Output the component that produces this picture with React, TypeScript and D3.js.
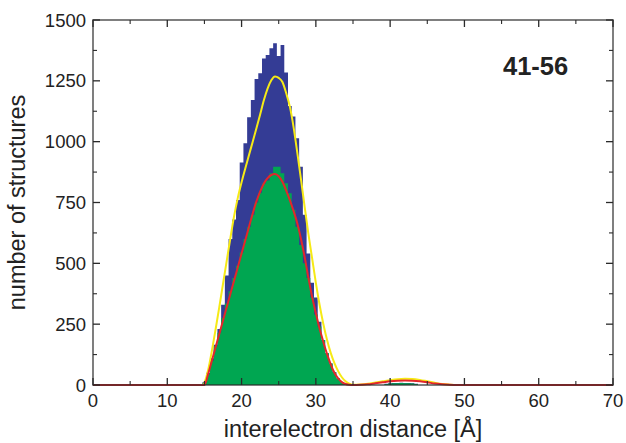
import React from "react";
import * as d3 from "d3";

// ---- data ----
const binCenters = [
  15, 15.5, 16, 16.5, 17, 17.5, 18, 18.5, 19, 19.5, 20, 20.5, 21, 21.5, 22, 22.5, 23, 23.5, 24, 24.5,
  25, 25.5, 26, 26.5, 27, 27.5, 28, 28.5, 29, 29.5, 30, 30.5, 31, 31.5, 32, 32.5, 33, 33.5, 34,
  39.5, 40, 40.5, 41, 41.5, 42, 42.5, 43, 43.5,
];
const totalCounts = [
  12, 50, 110, 165, 230, 330, 450, 600, 680, 760, 914, 993, 1100, 1171, 1258, 1281, 1342, 1356, 1384, 1404,
  1352, 1397, 1284, 1147, 1103, 1014, 897, 700, 540, 420, 360, 260, 185, 130, 88, 52, 27, 11, 4,
  5, 7, 8, 8, 9, 8, 8, 7, 5,
];
const subsetCounts = [
  8, 45, 100, 160, 215, 275, 335, 385, 440, 490, 545, 600, 650, 700, 750, 790, 828, 840, 870, 897,
  897, 870, 829, 788, 720, 650, 575, 500, 440, 360, 290, 240, 185, 130, 88, 52, 27, 11, 4,
  4, 6, 7, 7, 8, 7, 7, 6, 4,
];
const binWidth = 0.5;

const yellowX = [
  0, 14.9, 15, 15.5, 16, 16.5, 17, 17.5, 18, 18.5, 19, 19.5, 20, 20.5, 21, 21.5, 22, 22.5, 23, 23.5, 24, 24.5,
  25, 25.5, 26, 26.5, 27, 27.5, 28, 28.5, 29, 29.5, 30, 30.5, 31, 31.5, 32, 32.5, 33, 33.5, 34, 34.5, 35,
  36, 37, 38, 39, 40, 41, 42, 43, 44, 45, 46, 47, 48, 49, 70,
];
const yellowY = [
  0, 0, 8, 62, 140, 228, 320, 415, 510, 605, 695, 770, 833, 890, 945, 1000, 1055, 1112, 1170, 1218, 1252, 1268,
  1262, 1245, 1200, 1144, 1060, 955, 845, 730, 620, 520, 420, 330, 252, 186, 132, 90, 57, 32, 15, 5, 1,
  2, 5, 10, 15, 20, 24, 26, 25, 21, 15, 9, 4, 1.5, 0, 0,
];
const redX = [
  0, 15, 15.5, 16, 16.5, 17, 17.5, 18, 18.5, 19, 19.5, 20, 20.5, 21, 21.5, 22, 22.5, 23, 23.5, 24, 24.5,
  25, 25.5, 26, 26.5, 27, 27.5, 28, 28.5, 29, 29.5, 30, 30.5, 31, 31.5, 32, 32.5, 33, 33.5, 34, 34.5, 35,
  36, 37, 38, 39, 40, 41, 42, 43, 44, 45, 46, 47, 48, 49, 70,
];
const redY = [
  0, 0, 45, 100, 155, 210, 265, 320, 375, 430, 485, 540, 595, 650, 705, 755, 795, 828, 850, 863, 867,
  858, 835, 800, 760, 715, 665, 600, 525, 440, 362, 295, 232, 178, 128, 85, 50, 27, 12, 4, 1, 0,
  1, 3, 7, 11, 15, 17.5, 18.5, 17.5, 15, 11, 6, 3, 1, 0, 0,
];

const xMajorTicks = [0, 10, 20, 30, 40, 50, 60, 70];
const xMinorTicks = [5, 15, 25, 35, 45, 55, 65];
const yMajorTicks = [0, 250, 500, 750, 1000, 1250, 1500];
const yMinorTicks = [125, 375, 625, 875, 1125, 1375];

const xTitle = "interelectron distance [Å]";
const yTitle = "number of structures";
const panelLabel = "41-56";

const W = 626;
const H = 443;
const FONT = "'Liberation Sans', Arial, Helvetica, sans-serif";

export default function App() {
  const x = d3.scaleLinear().domain([0, 70]).range([93, 613]);
  const y = d3.scaleLinear().domain([0, 1500]).range([385, 20]);

  const area = d3
    .area<[number, number]>()
    .x((d) => x(d[0]))
    .y0(y(0))
    .y1((d) => y(d[1]));

  // one continuous step outline per run of adjacent bins
  const stepPaths = (vals: number[]) => {
    const groups: [number, number][][] = [];
    let cur: [number, number][] = [];
    binCenters.forEach((c, i) => {
      if (i > 0 && Math.abs(c - binCenters[i - 1] - binWidth) > 1e-6) {
        groups.push(cur);
        cur = [];
      }
      cur.push([c - binWidth / 2, vals[i]]);
      cur.push([c + binWidth / 2, vals[i]]);
    });
    if (cur.length) groups.push(cur);
    return groups.map((g) => area(g) || "");
  };

  const line = d3
    .line<[number, number]>()
    .x((d) => x(d[0]))
    .y((d) => y(d[1]))
    .curve(d3.curveMonotoneX);
  const yellowPath = line(yellowX.map((v, i) => [v, yellowY[i]] as [number, number])) || "";
  const redPath = line(redX.map((v, i) => [v, redY[i]] as [number, number])) || "";

  const [x0, x1] = x.range();
  const [yb, yt] = y.range();
  const axisColor = "#2a2a2a";

  return (
    <svg
      width={W}
      height={H}
      viewBox={`0 0 ${W} ${H}`}
      style={{ position: "absolute", left: 0, top: 0, background: "#fff" }}
    >
      <rect x={0} y={0} width={W} height={H} fill="#fff" />
      {stepPaths(totalCounts).map((d, i) => (
        <path key={"t" + i} d={d} fill="#343c95" />
      ))}
      {stepPaths(subsetCounts).map((d, i) => (
        <path key={"s" + i} d={d} fill="#00a651" />
      ))}
      <path d={yellowPath} fill="none" stroke="#f6ea16" strokeWidth={2} />
      <path d={redPath} fill="none" stroke="#e3262b" strokeWidth={2} />

      {/* frame */}
      <rect
        x={x0}
        y={yt}
        width={x1 - x0}
        height={yb - yt}
        fill="none"
        stroke={axisColor}
        strokeOpacity={0.75}
        strokeWidth={1.6}
      />
      {/* ticks */}
      {xMajorTicks.map((t) => (
        <g key={"xM" + t} stroke={axisColor} strokeWidth={1.3}>
          <line x1={x(t)} x2={x(t)} y1={yb} y2={yb - 7} />
          <line x1={x(t)} x2={x(t)} y1={yt} y2={yt + 7} />
        </g>
      ))}
      {xMinorTicks.map((t) => (
        <g key={"xm" + t} stroke={axisColor} strokeWidth={1.1}>
          <line x1={x(t)} x2={x(t)} y1={yb} y2={yb - 4} />
          <line x1={x(t)} x2={x(t)} y1={yt} y2={yt + 4} />
        </g>
      ))}
      {yMajorTicks.map((t) => (
        <g key={"yM" + t} stroke={axisColor} strokeWidth={1.3}>
          <line x1={x0} x2={x0 + 7} y1={y(t)} y2={y(t)} />
          <line x1={x1} x2={x1 - 7} y1={y(t)} y2={y(t)} />
        </g>
      ))}
      {yMinorTicks.map((t) => (
        <g key={"ym" + t} stroke={axisColor} strokeWidth={1.1}>
          <line x1={x0} x2={x0 + 4} y1={y(t)} y2={y(t)} />
          <line x1={x1} x2={x1 - 4} y1={y(t)} y2={y(t)} />
        </g>
      ))}

      {/* tick labels */}
      {xMajorTicks.map((t) => (
        <text
          key={"xl" + t}
          x={x(t)}
          y={407}
          textAnchor="middle"
          fontFamily={FONT}
          fontSize={18.5}
          fill="#222"
        >
          {t}
        </text>
      ))}
      {yMajorTicks.map((t) => (
        <text
          key={"yl" + t}
          x={86}
          y={y(t) + 6.6}
          textAnchor="end"
          fontFamily={FONT}
          fontSize={18.5}
          fill="#222"
        >
          {t}
        </text>
      ))}

      {/* titles */}
      <text
        x={(x0 + x1) / 2}
        y={437}
        textAnchor="middle"
        fontFamily={FONT}
        fontSize={23.5}
        fill="#222"
      >
        {xTitle}
      </text>
      <text
        transform={`translate(25, ${(yb + yt) / 2}) rotate(-90)`}
        textAnchor="middle"
        fontFamily={FONT}
        fontSize={23.5}
        fill="#222"
      >
        {yTitle}
      </text>
      <text
        x={503}
        y={75}
        fontFamily={FONT}
        fontSize={25.5}
        fontWeight="bold"
        fill="#222"
      >
        {panelLabel}
      </text>
    </svg>
  );
}
